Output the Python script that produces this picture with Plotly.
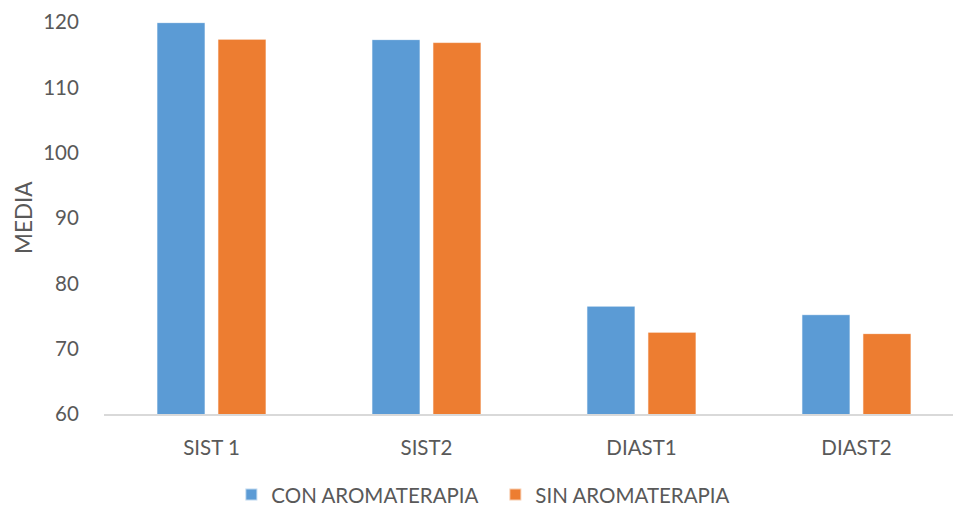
import plotly.graph_objects as go

# Mean blood pressure values by measurement and group
categories = ["SIST 1", "SIST2", "DIAST1", "DIAST2"]
con_aromaterapia = [119.9, 117.3, 76.5, 75.2]
sin_aromaterapia = [117.35, 116.85, 72.5, 72.3]
y_ticks = [60, 70, 80, 90, 100, 110, 120]

BLUE = "#5B9BD5"
ORANGE = "#ED7D31"
TEXT = "#595959"
FONT = "Lato"
SIZE = 20.5

fig = go.Figure()
fig.add_trace(go.Bar(
    x=categories, y=con_aromaterapia, name="CON AROMATERAPIA",
    marker=dict(color=BLUE, line=dict(color="rgba(255,255,255,0.6)", width=1)),
))
fig.add_trace(go.Bar(
    x=categories, y=sin_aromaterapia, name="SIN AROMATERAPIA",
    marker=dict(color=ORANGE, line=dict(color="rgba(255,255,255,0.6)", width=1)),
))

fig.update_layout(
    width=953, height=508,
    margin=dict(l=104, r=0, t=22, b=94),
    paper_bgcolor="white", plot_bgcolor="white",
    barmode="group", bargap=0.4326, bargroupgap=0.213,
    font=dict(family=FONT, size=SIZE, color=TEXT),
    showlegend=True,
    legend=dict(
        orientation="h", xref="paper", x=0.15, xanchor="left",
        yref="container", y=0.026, yanchor="middle",
        entrywidth=219,
        font=dict(family=FONT, size=SIZE, color=TEXT),
        itemsizing="constant", traceorder="normal",
    ),
    annotations=[dict(
        text="MEDIA", textangle=-90, showarrow=False,
        xref="paper", yref="paper", x=-0.0954, y=0.5,
        xanchor="center", yanchor="middle",
        font=dict(family=FONT, size=22.5, color=TEXT),
    )],
)

fig.update_xaxes(
    range=[-0.5, 3.449], automargin=False,
    showgrid=False, zeroline=False,
    showline=True, linecolor="#D9D9D9", linewidth=2,
    ticks="outside", ticklen=14, tickcolor="rgba(0,0,0,0)",
    tickfont=dict(family=FONT, size=SIZE, color=TEXT),
)
fig.update_yaxes(
    range=[60, 120], tickvals=y_ticks, automargin=False,
    showgrid=False, zeroline=False, showline=False,
    ticks="outside", ticklen=20, tickcolor="rgba(0,0,0,0)",
    tickfont=dict(family=FONT, size=SIZE, color=TEXT),
)

fig.write_html("out.html")
